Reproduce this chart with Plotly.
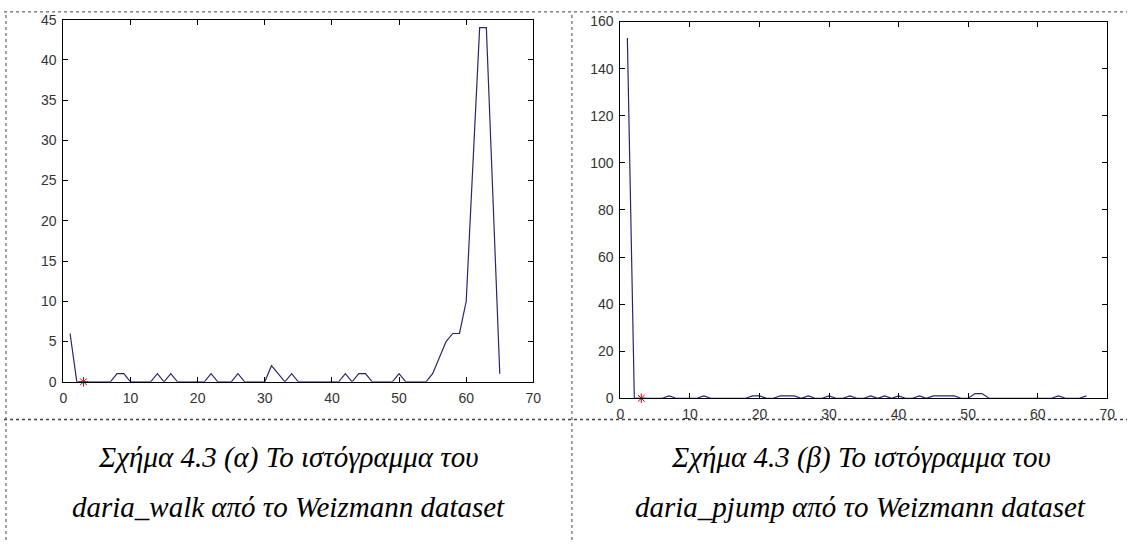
import plotly.graph_objects as go

# ---- data ----
walk_x = list(range(1, 66))
walk_y = [6, 0, 0, 0, 0, 0, 0, 1, 1, 0,
          0, 0, 0, 1, 0, 1, 0, 0, 0, 0,
          0, 1, 0, 0, 0, 1, 0, 0, 0, 0,
          2, 1, 0, 1, 0, 0, 0, 0, 0, 0,
          0, 1, 0, 1, 1, 0, 0, 0, 0, 1,
          0, 0, 0, 0, 1, 3, 5, 6, 6, 10,
          27, 44, 44, 22, 1]

pjump_x = list(range(1, 68))
pjump_y = [153, 0, 0, 0, 0, 0, 1, 0, 0, 0,
           0, 1, 0, 0, 0, 0, 0, 0, 1, 1,
           0, 0, 1, 1, 1, 0, 1, 0, 0, 1,
           0, 0, 1, 0, 0, 1, 0, 1, 0, 1,
           0, 0, 1, 0, 1, 1, 1, 1, 0, 0,
           2, 2, 0, 0, 0, 0, 0, 0, 0, 0,
           0, 0, 1, 0, 0, 0, 1]

marker_x = [3]
marker_y = [0]

x_ticks = [0, 10, 20, 30, 40, 50, 60, 70]
walk_yticks = [0, 5, 10, 15, 20, 25, 30, 35, 40, 45]
pjump_yticks = [0, 20, 40, 60, 80, 100, 120, 140, 160]

caption_a = ["Σχήμα 4.3 (α) Το ιστόγραμμα του", "daria_walk από το Weizmann dataset"]
caption_b = ["Σχήμα 4.3 (β) Το ιστόγραμμα του", "daria_pjump από το Weizmann dataset"]

LINE = "#26266e"
W, H = 1135, 548

fig = go.Figure()
fig.add_trace(go.Scatter(x=walk_x, y=walk_y, mode="lines",
                         line=dict(color=LINE, width=1.2), xaxis="x", yaxis="y"))
fig.add_trace(go.Scatter(x=marker_x, y=marker_y, mode="markers",
                         marker=dict(symbol="asterisk-open", size=8, color="#d00000",
                                     line=dict(color="#d00000", width=1)),
                         xaxis="x", yaxis="y", cliponaxis=False))
fig.add_trace(go.Scatter(x=pjump_x, y=pjump_y, mode="lines",
                         line=dict(color=LINE, width=1.2), xaxis="x2", yaxis="y2"))
fig.add_trace(go.Scatter(x=marker_x, y=marker_y, mode="markers",
                         marker=dict(symbol="asterisk-open", size=8, color="#d00000",
                                     line=dict(color="#d00000", width=1)),
                         xaxis="x2", yaxis="y2", cliponaxis=False))

def px(x):
    return x / W

def py(y):
    return 1 - y / H

axis_common = dict(showgrid=False, zeroline=False, showline=True, linecolor="#000",
                   linewidth=1, mirror="ticks", ticks="inside", ticklen=5,
                   tickcolor="#000", tickwidth=1, ticklabelstandoff=3,
                   tickfont=dict(family="Liberation Sans, Arial", size=14, color="#333"))

fig.update_layout(
    width=W, height=H,
    margin=dict(l=0, r=0, t=0, b=0),
    paper_bgcolor="white", plot_bgcolor="white",
    showlegend=False,
    xaxis=dict(domain=[px(60), px(535)], range=[0, 70], tickvals=x_ticks,
               anchor="y", **axis_common),
    yaxis=dict(domain=[py(385), py(12)], range=[0, 45], tickvals=walk_yticks,
               anchor="x", **axis_common),
    xaxis2=dict(domain=[px(623), px(1115)], range=[0, 70], tickvals=x_ticks,
                anchor="y2", **axis_common),
    yaxis2=dict(domain=[py(402), py(14)], range=[0, 160], tickvals=pjump_yticks,
                anchor="x2", **axis_common),
)

# table-like dotted borders
dot = dict(color="#444", width=1, dash="dot")
shapes = [
    dict(type="line", xref="paper", yref="paper", x0=0, x1=1, y0=py(4), y1=py(4), line=dot),
    dict(type="line", xref="paper", yref="paper", x0=px(2), x1=px(2), y0=0, y1=py(4), line=dot),
    dict(type="line", xref="paper", yref="paper", x0=px(574), x1=px(574), y0=0, y1=py(4), line=dot),
    dict(type="line", xref="paper", yref="paper", x0=0, x1=1, y0=py(424), y1=py(424),
         line=dict(color="#444", width=1.5, dash="dot")),
]
fig.update_layout(shapes=shapes)

cap_font = dict(family="Liberation Serif, Times New Roman", size=29, color="#000")
annotations = []
for lines, cx in ((caption_a, 288), (caption_b, 866)):
    for text, cy in zip(lines, (463, 514)):
        annotations.append(dict(xref="paper", yref="paper", x=px(cx), y=py(cy),
                                text="<i>" + text + "</i>", showarrow=False,
                                xanchor="center", yanchor="middle", font=cap_font))
fig.update_layout(annotations=annotations)

fig.write_html("out.html")
